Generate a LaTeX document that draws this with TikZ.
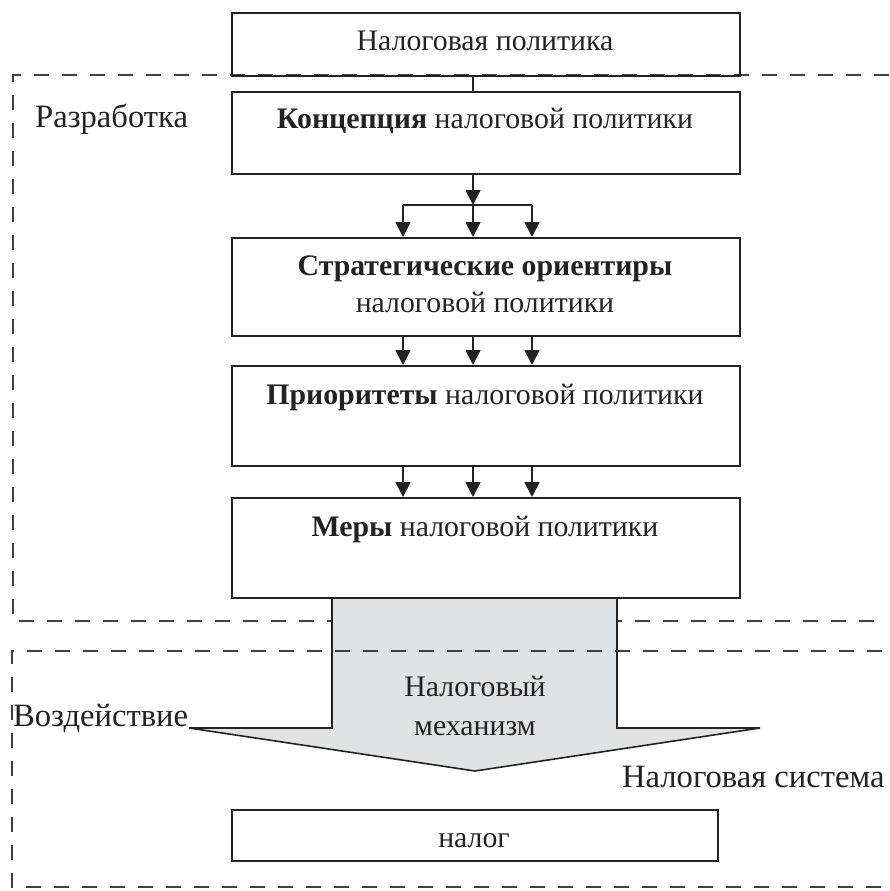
\documentclass[tikz,border=0pt]{standalone}
\usepackage{fontspec}
\setmainfont{Liberation Serif}
\usetikzlibrary{arrows.meta}
\definecolor{arrowfill}{HTML}{E1E2E4}
\definecolor{ink}{HTML}{222222}
\begin{document}
\begin{tikzpicture}[x=1pt,y=-1pt,
  box/.style={draw=ink, line width=1.8pt, minimum width=508pt, inner sep=0pt, anchor=north west},
  txt/.style={font=\fontsize{29.8}{34}\selectfont, text=ink, inner sep=0pt, anchor=base},
  lbl/.style={font=\fontsize{32.6}{36}\selectfont, text=ink, inner sep=0pt, anchor=base west},
  dbox/.style={draw=black!75, line width=1.3pt, dash pattern=on 15pt off 13pt},
  arr/.style={draw=ink, line width=1.8pt, -{Triangle[length=15pt,width=15pt]}},
]
\useasboundingbox (0,0) rectangle (890,891);

% dashed region 1
\draw[dbox] (889,75) -- (13,75) -- (13,621) -- (882,621);

% big arrow
\fill[arrowfill] (332,597) -- (332,728) -- (189,728) -- (475,771) -- (760,728) -- (617,728) -- (617,597) -- cycle;
\draw[draw=ink, line width=1.6pt, line join=miter] (332,597) -- (332,728) -- (189,728) -- (475,771) -- (760,728) -- (617,728) -- (617,597);

% dashed region 2
\draw[dbox] (882,651) -- (12,651) -- (12,887) -- (882,887);

% boxes
\node[box, minimum height=63pt] (top) at (231,12) {};
\node[box, minimum height=82pt] (konc) at (231,91) {};
\node[box, minimum height=98pt] (strat) at (231,237) {};
\node[box, minimum height=100pt] (prio) at (231,365) {};
\node[box, minimum height=100pt] (mery) at (231,497) {};
\node[box, minimum width=486pt, minimum height=51pt] (nalog) at (231,809) {};

% connectors
\coordinate (sp) at (473,0);
\coordinate (bl) at (403,0);
\coordinate (brt) at (532,0);
\coordinate (br) at (473,205);
\draw[draw=ink, line width=1.2pt] (top.south -| sp) -- (konc.north -| sp);
\draw[arr] (konc.south -| sp) -- (br);
\draw[draw=ink, line width=1.8pt] (br -| bl) -- (br -| brt);
\foreach \c in {bl,sp,brt} \draw[arr] (br -| \c) -- (strat.north -| \c);
\foreach \c in {bl,sp,brt} \draw[arr] (strat.south -| \c) -- (prio.north -| \c);
\foreach \c in {bl,sp,brt} \draw[arr] (prio.south -| \c) -- (mery.north -| \c);

% texts
\node[txt] (t0) at (485,51) {Налоговая политика};
\node[txt] (t1) at (485,128) {\textbf{Концепция} налоговой политики};
\node[txt] (t2a) at (485,275) {\textbf{Стратегические ориентиры}};
\node[txt] (t2b) at (485,312) {налоговой политики};
\node[txt] (t3) at (485,404) {\textbf{Приоритеты} налоговой политики};
\node[txt] (t4) at (485,536) {\textbf{Меры} налоговой политики};
\node[lbl] (razr) at (35,127) {Разработка};
\node[lbl] (vozd) at (13,726) {Воздействие};
\node[lbl] (nsys) at (622,787) {Налоговая система};
\node[txt] (mech1) at (475,696) {Налоговый};
\node[txt] (mech2) at (475,735) {механизм};
\node[txt] (tn) at (474,847) {налог};
\end{tikzpicture}
\end{document}
